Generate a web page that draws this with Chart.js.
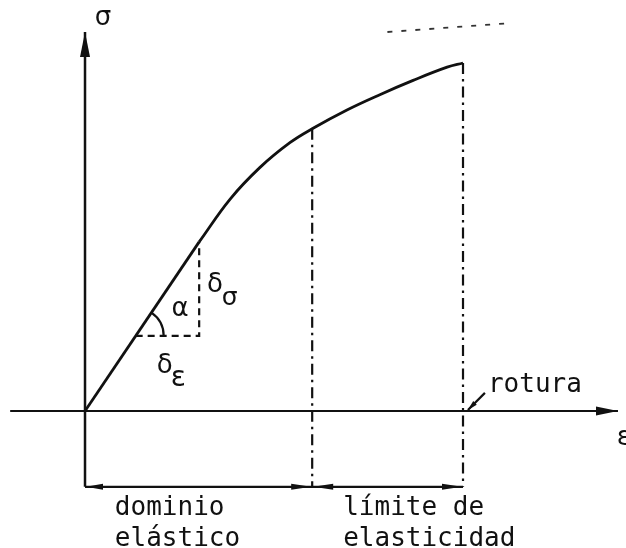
<!DOCTYPE html>
<html>
<head>
<meta charset="utf-8">
<script src="https://cdn.jsdelivr.net/npm/chart.js@4/dist/chart.umd.min.js"></script>
<style>
html,body{margin:0;padding:0;background:#fff;}
canvas{display:block;}
</style>
</head>
<body>
<canvas id="c" width="626" height="548"></canvas>
<script>
// ---- data (ε, σ) in arbitrary units ----
const elasticEps   = [0, 3.02];
const elasticSigma = [0, 4.86];
const curveEps     = [3.02, 3.84, 4.63, 5.42, 6.01, 6.93, 7.80, 8.68, 9.58, 10.0];
const curveSigma   = [4.86, 6.09, 7.00, 7.71, 8.11, 8.65, 9.09, 9.50, 9.88, 10.0];
const limitEps     = 6.01;   // end of elastic domain
const limitSigma   = 8.11;
const ruptureEps   = 10.0;
const ruptureSigma = 10.0;
const triEps       = [1.34, 3.02, 3.02];
const triSigma     = [2.16, 2.16, 4.86];
const dimLevel     = -2.18;  // level of the dimension line under the axis
const axisEpsRange = [-1.98, 14.1];
const axisSigmaTop = 10.89;
const leaderEps    = [10.13, 10.58];
const leaderSigma  = [0.03, 0.52];
const noiseEps     = [8.0, 11.3];
const noiseSigma   = [10.89, 11.15];

const regionLabels = ["dominio", "elástico", "límite de", "elasticidad"];
const axisLabels   = ["σ", "ε"];
const otherLabels  = ["rotura", "α"];

const pts = (xs, ys) => xs.map((x, i) => ({x, y: ys[i]}));

const black = '#111';
const base = {pointRadius: 0, borderColor: black, fill: false, tension: 0};

const datasets = [
  {...base, data: pts(axisEpsRange, [0, 0]), borderWidth: 2.2},
  {...base, data: pts([0, 0], [dimLevel, axisSigmaTop]), borderWidth: 2.5},
  {...base, data: pts(elasticEps, elasticSigma), borderWidth: 2.8},
  {...base, data: pts(curveEps, curveSigma), borderWidth: 2.8, tension: 0.4},
  {...base, data: pts(triEps, triSigma), borderWidth: 2.2, borderDash: [7, 5]},
  {...base, data: pts([limitEps, limitEps], [limitSigma, dimLevel]), borderWidth: 2.2, borderDash: [11, 5, 2.5, 5]},
  {...base, data: pts([ruptureEps, ruptureEps], [ruptureSigma, dimLevel]), borderWidth: 2.2, borderDash: [11, 5, 2.5, 5]},
  {...base, data: pts([0, ruptureEps], [dimLevel, dimLevel]), borderWidth: 2.2},
  {...base, data: pts(leaderEps, leaderSigma), borderWidth: 2.2},
  {...base, data: pts(noiseEps, noiseSigma), borderWidth: 1.8, borderDash: [5, 9], borderColor: '#333'}
];

function arrow(ctx, tx, ty, ang, len, hw) {
  const bx = tx - Math.cos(ang) * len, by = ty - Math.sin(ang) * len;
  const nx = -Math.sin(ang) * hw, ny = Math.cos(ang) * hw;
  ctx.beginPath();
  ctx.moveTo(tx, ty);
  ctx.lineTo(bx + nx, by + ny);
  ctx.lineTo(bx - nx, by - ny);
  ctx.closePath();
  ctx.fill();
}

const decor = {
  id: 'decor',
  afterDatasetsDraw(chart) {
    const {ctx, scales: {x, y}} = chart;
    const px = v => x.getPixelForValue(v), py = v => y.getPixelForValue(v);
    ctx.save();
    ctx.fillStyle = black;
    ctx.strokeStyle = black;
    arrow(ctx, px(0), py(axisSigmaTop), -Math.PI / 2, 25, 5);
    arrow(ctx, px(axisEpsRange[1]), py(0), 0, 22, 4.5);
    arrow(ctx, px(0) + 1, py(dimLevel), Math.PI, 17, 3);
    arrow(ctx, px(limitEps) - 1, py(dimLevel), 0, 20, 3);
    arrow(ctx, px(limitEps) + 1, py(dimLevel), Math.PI, 20, 3);
    arrow(ctx, px(ruptureEps) - 1, py(dimLevel), 0, 20, 3);
    const lx0 = px(leaderEps[0]), ly0 = py(leaderSigma[0]);
    const lx1 = px(leaderEps[1]), ly1 = py(leaderSigma[1]);
    arrow(ctx, lx0, ly0, Math.atan2(ly0 - ly1, lx0 - lx1), 10, 2.5);
    const cx = px(triEps[0]), cy = py(triSigma[0]);
    const ang = Math.atan2(py(elasticSigma[1]) - py(0), px(elasticEps[1]) - px(0));
    ctx.lineWidth = 2.2;
    ctx.beginPath();
    ctx.arc(cx, cy, 28, ang, 0);
    ctx.stroke();

    ctx.textBaseline = 'alphabetic';
    ctx.textAlign = 'left';
    ctx.font = '26px "DejaVu Sans Mono"';
    ctx.fillText(regionLabels[0], px(0.79), py(-2.99));
    ctx.fillText(regionLabels[1], px(0.79), py(-3.88));
    ctx.fillText(regionLabels[2], px(6.83), py(-2.99));
    ctx.fillText(regionLabels[3], px(6.83), py(-3.88));
    ctx.fillText(otherLabels[0], px(10.66), py(0.55));

    ctx.font = '26px "DejaVu Sans"';
    ctx.fillText(axisLabels[0], px(0.26), py(11.10));
    ctx.fillText(axisLabels[1], px(14.07), py(-0.98));
    ctx.fillText(otherLabels[1], px(2.29), py(2.72));
    ctx.fillText('δ', px(3.23), py(3.42));
    ctx.font = '25px "DejaVu Sans"';
    ctx.fillText('σ', px(3.62), py(3.05));
    ctx.font = '26px "DejaVu Sans"';
    ctx.fillText('δ', px(1.90), py(1.09));
    ctx.font = '28px "DejaVu Sans"';
    ctx.fillText('ε', px(2.27), py(0.72));
    ctx.restore();
  }
};

new Chart(document.getElementById('c'), {
  type: 'line',
  data: {datasets},
  options: {
    responsive: false,
    animation: false,
    devicePixelRatio: 1,
    layout: {padding: 0},
    plugins: {legend: {display: false}, tooltip: {enabled: false}},
    scales: {
      x: {type: 'linear', display: false, min: -2.249, max: 14.312},
      y: {type: 'linear', display: false, min: -3.937, max: 11.810}
    }
  },
  plugins: [decor]
});
</script>
</body>
</html>
